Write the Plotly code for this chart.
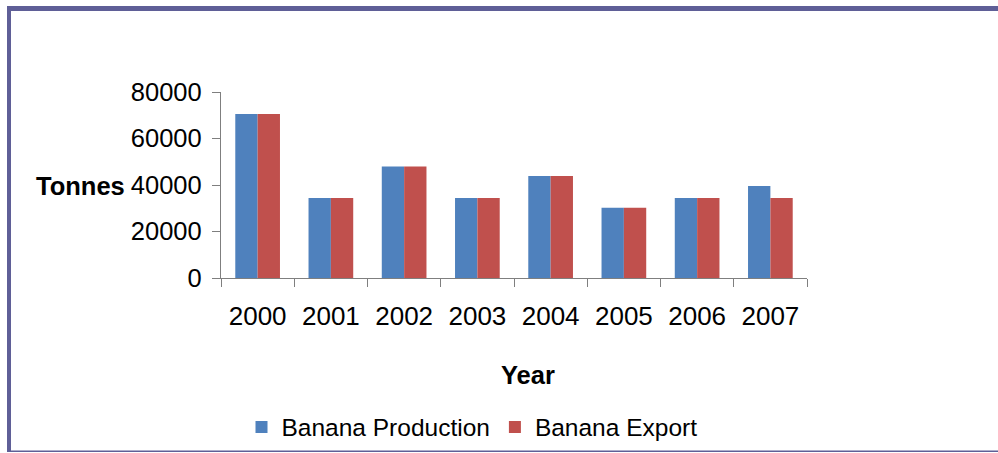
import plotly.graph_objects as go

years = ["2000", "2001", "2002", "2003", "2004", "2005", "2006", "2007"]
production = [70500, 34400, 48000, 34400, 43900, 30200, 34400, 39600]
export = [70500, 34400, 48000, 34400, 43900, 30200, 34400, 34400]
y_ticks = [0, 20000, 40000, 60000, 80000]

W, H = 998, 453
L, R, T, B = 221, 191, 92, 175
PW, PH = W - L - R, H - T - B

def px(x):
    return (x - L) / PW

def py(y):
    return (H - B - y) / PH

FONT = "Liberation Sans, Arial, sans-serif"
BORDER = "#5F5F97"

fig = go.Figure()
fig.add_trace(go.Bar(x=years, y=production, name="Banana Production",
                     marker=dict(color="#4F81BD", line=dict(width=0))))
fig.add_trace(go.Bar(x=years, y=export, name="Banana Export",
                     marker=dict(color="#C0504D", line=dict(width=0))))

shapes = [
    dict(type="rect", xref="paper", yref="paper", x0=px(7), x1=px(1000), y0=py(11), y1=py(6),
         fillcolor=BORDER, line=dict(width=0), layer="above"),
    dict(type="rect", xref="paper", yref="paper", x0=px(7), x1=px(11), y0=py(452), y1=py(6),
         fillcolor=BORDER, line=dict(width=0), layer="above"),
    dict(type="rect", xref="paper", yref="paper", x0=px(7), x1=px(1000), y0=py(452), y1=py(450.5),
         fillcolor=BORDER, line=dict(width=0), layer="above"),
]

annotations = [
    dict(text="<b>Tonnes</b>", xref="paper", yref="paper", x=px(80), y=py(186),
         xanchor="center", yanchor="middle",
         showarrow=False, font=dict(family=FONT, size=25.5, color="black")),
    dict(text="<b>Year</b>", xref="paper", yref="paper", x=px(528), y=py(375),
         xanchor="center", yanchor="middle",
         showarrow=False, font=dict(family=FONT, size=25.5, color="black")),
]

fig.update_layout(
    width=W, height=H,
    margin=dict(l=L, r=R, t=T, b=B, autoexpand=False),
    paper_bgcolor="white", plot_bgcolor="white",
    barmode="group", bargap=0.39, bargroupgap=0,
    font=dict(family=FONT, size=24.5, color="black"),
    showlegend=True,
    legend=dict(orientation="h", x=px(472), xanchor="center", y=py(427), yanchor="middle",
                font=dict(family=FONT, size=24.5, color="black"), itemwidth=30,
                traceorder="normal"),
    shapes=shapes,
    annotations=annotations,
)
fig.update_xaxes(showline=True, linecolor="#7f7f7f", linewidth=1.3, ticks="outside",
                 tickson="boundaries", ticklen=8, tickcolor="#7f7f7f", showgrid=False,
                 tickfont=dict(family=FONT, size=26, color="black"), ticklabelstandoff=15,
                 automargin=False)
fig.update_yaxes(range=[0, 80000], tickvals=y_ticks, ticktext=[str(v) for v in y_ticks],
                 showline=True, linecolor="#7f7f7f", linewidth=1.3, ticks="outside",
                 ticklen=8, tickcolor="#7f7f7f", showgrid=False, zeroline=False,
                 tickfont=dict(family=FONT, size=25.5, color="black"), ticklabelstandoff=5,
                 automargin=False)

fig.write_html("out.html")
